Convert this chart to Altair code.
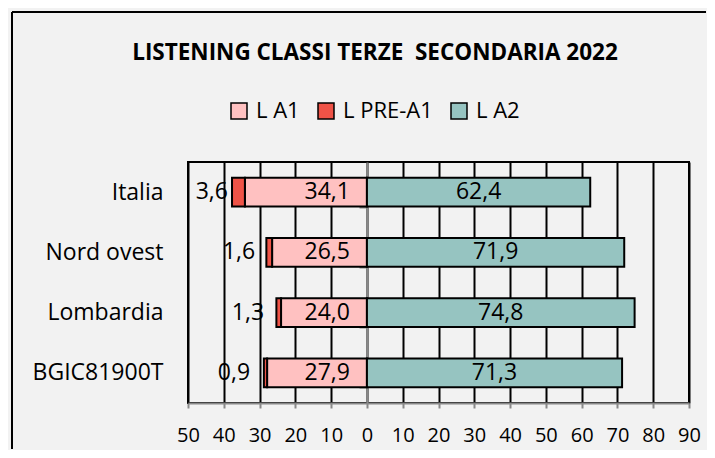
import altair as alt
import pandas as pd

categories = ["Italia", "Nord ovest", "Lombardia", "BGIC81900T"]
series = ["L A1", "L PRE-A1", "L A2"]
l_pre_a1 = [3.6, 1.6, 1.3, 0.9]
l_a1 = [34.1, 26.5, 24.0, 27.9]
l_a2 = [62.4, 71.9, 74.8, 71.3]
colors = ["#FFC1C1", "#EF5347", "#96C4C1"]
x_ticks = list(range(-50, 91, 10))
title_text = "LISTENING CLASSI TERZE\u00a0 SECONDARIA 2022"

rows = []
for i, c in enumerate(categories):
    rows.append({"cat": c, "series": "L A1", "v": -l_a1[i], "ord": 1})
    rows.append({"cat": c, "series": "L PRE-A1", "v": -l_pre_a1[i], "ord": 2})
    rows.append({"cat": c, "series": "L A2", "v": l_a2[i], "ord": 1})
df = pd.DataFrame(rows)

FONT = "Open Sans"

base = alt.Chart(df).transform_stack(
    stack="v", groupby=["cat"], as_=["v0", "v1"],
    sort=[alt.SortField("ord", "ascending")]
).transform_calculate(
    lab="replace(format(abs(datum.v), '.1f'), '.', ',')",
    inner="datum.v < 0 ? max(datum.v0, datum.v1) : (datum.v0 + datum.v1) / 2",
)

yaxis = alt.Axis(title=None, offset=-179, domainColor="#888888", domainWidth=2,
                 tickColor="#888888", tickWidth=2, tickSize=8, tickBand="extent",
                 labelPadding=196, labelFontSize=23, labelColor="black", labelFont=FONT,
                 grid=False)
yscale = alt.Scale(paddingInner=0.52, paddingOuter=0.26)
xscale = alt.Scale(domain=[-50, 90], nice=False, zero=False)
xaxis = alt.Axis(values=x_ticks, labelExpr="'' + abs(datum.value)", title=None, grid=True,
                 gridColor="black", gridWidth=2, domainColor="#888888", domainWidth=2,
                 tickColor="#888888", tickWidth=2, tickSize=5, labelFontSize=20,
                 labelBaseline="alphabetic", labelPadding=33, labelFont=FONT,
                 labelColor="black", labelFlush=False, labelOverlap=False)

def Y():
    return alt.Y("cat:N", sort=categories, scale=yscale, axis=yaxis)

bars = base.mark_bar(stroke="black", strokeWidth=2).encode(
    x=alt.X("v0:Q", scale=xscale, axis=xaxis),
    x2="v1:Q",
    y=Y(),
    color=alt.Color("series:N", scale=alt.Scale(domain=series, range=colors),
                    legend=alt.Legend(orient="none", legendX=40, legendY=-62,
                                      direction="horizontal", title=None,
                                      symbolType="square", symbolSize=256,
                                      symbolStrokeColor="black", symbolStrokeWidth=1.5,
                                      labelFontSize=22, labelFont=FONT, labelColor="black",
                                      columnPadding=15, labelOffset=6)),
)

left_text = base.transform_filter("datum.v < 0").mark_text(
    align="right", baseline="middle", dx=-17, fontSize=23, font=FONT, color="black"
).encode(x=alt.X("inner:Q", scale=xscale, axis=xaxis), y=Y(), text="lab:N")

right_text = base.transform_filter("datum.v > 0").mark_text(
    align="center", baseline="middle", fontSize=23, font=FONT, color="black"
).encode(x=alt.X("inner:Q", scale=xscale, axis=xaxis), y=Y(), text="lab:N")

frame_df = pd.DataFrame({"k": [0]})
top_rule = alt.Chart(frame_df).mark_rule(color="black", strokeWidth=2).encode(
    x=alt.value(-176), x2=alt.value(518), y=alt.value(-150))
left_rule = alt.Chart(frame_df).mark_rule(color="black", strokeWidth=2).encode(
    x=alt.value(-176), y=alt.value(-150), y2=alt.value(287))

chart = alt.layer(bars, left_text, right_text, top_rule, left_rule).properties(
    width=501, height=241,
    padding={"left": 3, "top": 3, "right": 0, "bottom": 0},
    title=alt.TitleParams(title_text, font=FONT, fontSize=22.5, fontWeight="bold",
                          color="black", anchor="middle", frame="group", dx=-63.5,
                          offset=-71, baseline="alphabetic"),
).configure(background="#f2f2f2").configure_view(stroke="black", strokeWidth=2)

chart.save("out.html", embed_options={"renderer": "svg", "actions": False})
